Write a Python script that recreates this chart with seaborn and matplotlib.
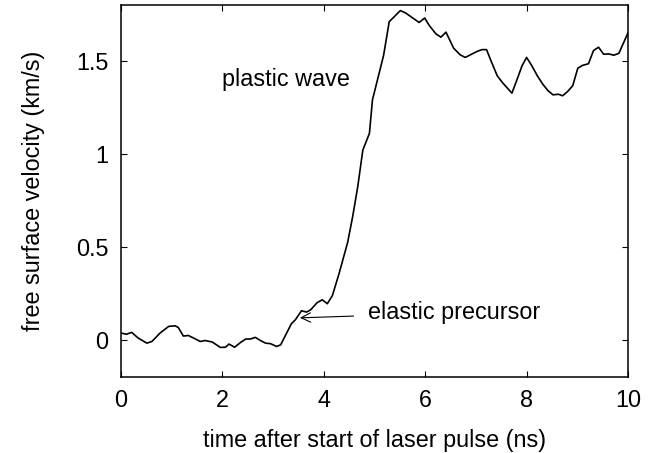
import matplotlib
matplotlib.use("Agg")
import matplotlib.pyplot as plt
import seaborn as sns
import pandas as pd

# free surface velocity trace
time_ns = [0.00, 0.11, 0.21, 0.34, 0.51, 0.61, 0.77, 0.94, 1.07, 1.13,
           1.23, 1.33, 1.50, 1.56, 1.66, 1.80, 1.96, 2.06, 2.13, 2.24,
           2.36, 2.46, 2.55, 2.65, 2.75, 2.85, 2.95, 3.07, 3.15, 3.25,
           3.36, 3.44, 3.56, 3.66, 3.74, 3.87, 3.97, 4.07, 4.17, 4.30,
           4.47, 4.57, 4.67, 4.77, 4.90, 4.96, 5.18, 5.29, 5.51, 5.62,
           5.88, 5.99, 6.08, 6.21, 6.31, 6.41, 6.56, 6.69, 6.79, 7.02,
           7.12, 7.21, 7.29, 7.42, 7.52, 7.71, 7.81, 7.91, 8.00, 8.10,
           8.21, 8.32, 8.42, 8.52, 8.63, 8.71, 8.81, 8.91, 9.01, 9.10,
           9.22, 9.32, 9.42, 9.52, 9.62, 9.72, 9.82, 10.00]
velocity = [0.036, 0.030, 0.040, 0.009, -0.018, -0.009, 0.036, 0.072, 0.075, 0.066,
            0.020, 0.023, 0.000, -0.009, -0.004, -0.012, -0.041, -0.040, -0.023, -0.040,
            -0.014, 0.004, 0.004, 0.013, -0.004, -0.018, -0.021, -0.036, -0.027, 0.027,
            0.086, 0.108, 0.156, 0.149, 0.161, 0.200, 0.215, 0.194, 0.238, 0.355,
            0.523, 0.663, 0.824, 1.020, 1.110, 1.290, 1.530, 1.710, 1.770, 1.756,
            1.706, 1.730, 1.690, 1.645, 1.627, 1.654, 1.568, 1.532, 1.518, 1.550,
            1.560, 1.560, 1.505, 1.420, 1.384, 1.326, 1.398, 1.473, 1.518, 1.475,
            1.420, 1.374, 1.340, 1.317, 1.320, 1.312, 1.335, 1.366, 1.460, 1.475,
            1.484, 1.555, 1.573, 1.535, 1.537, 1.530, 1.540, 1.650]

x_ticks = [0, 2, 4, 6, 8, 10]
y_ticks = [0, 0.5, 1, 1.5]
y_tick_labels = ["0", "0.5", "1", "1.5"]

sns.set_style("ticks")
plt.rcParams["font.family"] = ["Liberation Sans", "DejaVu Sans"]
plt.rcParams["text.color"] = "black"
plt.rcParams["axes.labelcolor"] = "black"
fs = 16.8

df = pd.DataFrame({"t": time_ns, "v": velocity})

fig = plt.figure(figsize=(6.7, 4.53), dpi=100)
ax = fig.add_axes([0.1806, 0.1678, 0.7567, 0.8212])

sns.lineplot(data=df, x="t", y="v", color="black", linewidth=1.2, ax=ax,
             estimator=None, sort=False)

ax.set_xlim(0, 10)
ax.set_ylim(-0.2, 1.8)
ax.set_xticks(x_ticks)
ax.set_yticks(y_ticks)
ax.set_yticklabels(y_tick_labels)
ax.tick_params(direction="in", length=4, width=0.8, top=True, right=True,
               labelsize=fs, colors="black", pad=9)
for s in ax.spines.values():
    s.set_visible(True)
    s.set_linewidth(1.1)
    s.set_color("black")

ax.set_xlabel("time after start of laser pulse (ns)", fontsize=fs, labelpad=12)
ax.set_ylabel("free surface velocity (km/s)", fontsize=fs, labelpad=22)

ax.text(2.0, 1.40, "plastic wave", fontsize=fs, va="center", ha="left")
ax.annotate("elastic precursor", xy=(3.53, 0.118), xytext=(4.87, 0.145),
            fontsize=fs, va="center", ha="left",
            arrowprops=dict(arrowstyle="->", color="black", lw=0.8,
                            shrinkA=8, shrinkB=0))

fig.savefig("out.png", dpi=100)
